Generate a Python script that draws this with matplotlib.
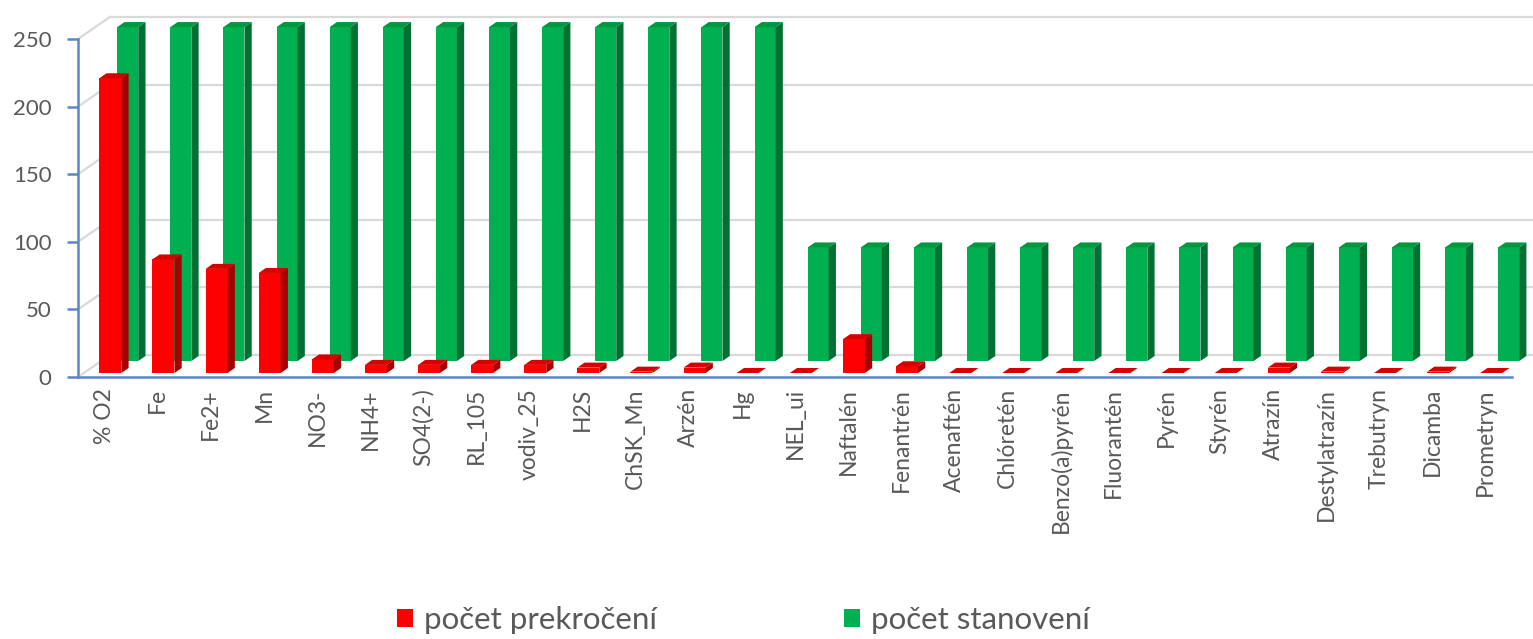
import numpy as np
import matplotlib.pyplot as plt
from matplotlib.patches import Polygon, Patch

plt.rcParams["font.family"] = ["Lato", "DejaVu Sans"]

categories = ["% O2", "Fe", "Fe2+", "Mn", "NO3-", "NH4+", "SO4(2-)", "RL_105",
              "vodiv_25", "H2S", "ChSK_Mn", "Arzén", "Hg", "NEL_ui", "Naftalén",
              "Fenantrén", "Acenaftén", "Chlóretén", "Benzo(a)pyrén", "Fluorantén",
              "Pyrén", "Styrén", "Atrazín", "Destylatrazín", "Trebutryn", "Dicamba",
              "Prometryn"]
prekrocenie = [218, 84, 77, 74, 10, 6, 6, 6, 6, 4, 1, 4, 0, 0, 25,
               5, 0, 0, 0, 0, 0, 0, 4, 1, 0, 1, 0]
stanovenie = [247] * 13 + [84] * 14
legend_labels = ["počet prekročení", "počet stanovení"]
yticks = [0, 50, 100, 150, 200, 250]

RED = ("#ff0000", "#a80000", "#d60000")      # front, side, top
GREEN = ("#00b050", "#007033", "#00973f")
AXIS = "#5b87c8"
GRID = "#d9d9d9"
TEXT = "#595959"

n = len(categories)
fig = plt.figure(figsize=(15.33, 6.39), dpi=100)
ax = fig.add_axes([78 / 1533, 262 / 639, 1434 / 1533, 338 / 639])
ax.set_xlim(0, n)
ax.set_ylim(0, 250)

# pixel -> data conversion for the oblique "depth" direction
PX_X = 1434 / n
PX_Y = 338 / 250


def depth(px):
    return 1.45 * px / PX_X, px / PX_Y


# walls: side wall diagonals + back wall gridlines
wx, wy = depth(22)
for v in yticks:
    ax.plot([wx, n + wx], [v + wy, v + wy], color=GRID, lw=1.6, clip_on=False, zorder=0)
    ax.plot([0, wx], [v, v + wy], color=GRID, lw=1.6, clip_on=False, zorder=0)


def bar3d(vals, row_px, w_px, d_px, cols, z):
    rx, ry = depth(row_px)
    w = w_px / PX_X
    ddx, ddy = depth(d_px)
    for i, h in enumerate(vals):
        x0 = i + 0.5 - w / 2 + rx
        ax.bar(x0, h, width=w, bottom=ry, align="edge", color=cols[0],
               lw=0, zorder=z, clip_on=False)
        side = [(x0 + w, ry), (x0 + w + ddx, ry + ddy),
                (x0 + w + ddx, ry + h + ddy), (x0 + w, ry + h)]
        top = [(x0, ry + h), (x0 + w, ry + h),
               (x0 + w + ddx, ry + h + ddy), (x0 + ddx, ry + h + ddy)]
        ax.add_patch(Polygon(side, closed=True, fc=cols[1], lw=0, zorder=z, clip_on=False))
        ax.add_patch(Polygon(top, closed=True, fc=cols[2], lw=0, zorder=z, clip_on=False))


bar3d(stanovenie, 16, 21, 5, GREEN, 2)
bar3d(prekrocenie, 4, 22, 5, RED, 3)

for s in ["top", "right"]:
    ax.spines[s].set_visible(False)
for s in ["left", "bottom"]:
    ax.spines[s].set_color(AXIS)
    ax.spines[s].set_linewidth(1.8)
    ax.spines[s].set_zorder(5)

ax.set_yticks(yticks)
ax.tick_params(axis="y", colors=AXIS, length=8, width=1.8, pad=11,
               labelsize=16, labelcolor=TEXT)
ax.set_xticks(np.arange(n) + 0.5)
ax.set_xticklabels(categories, rotation=90, fontsize=16.5, color=TEXT)
ax.tick_params(axis="x", length=0, pad=8)
ax.patch.set_visible(False)

handles = [Patch(facecolor=RED[0]), Patch(facecolor=GREEN[0])]
fig.legend(handles, legend_labels, loc="center", bbox_to_anchor=(0.485, 0.03),
           ncol=2, frameon=False, fontsize=22.5, labelcolor=TEXT,
           handlelength=0.5, handleheight=0.5, handletextpad=0.35, columnspacing=6.0)

fig.savefig("out.png", dpi=100, facecolor="white")
